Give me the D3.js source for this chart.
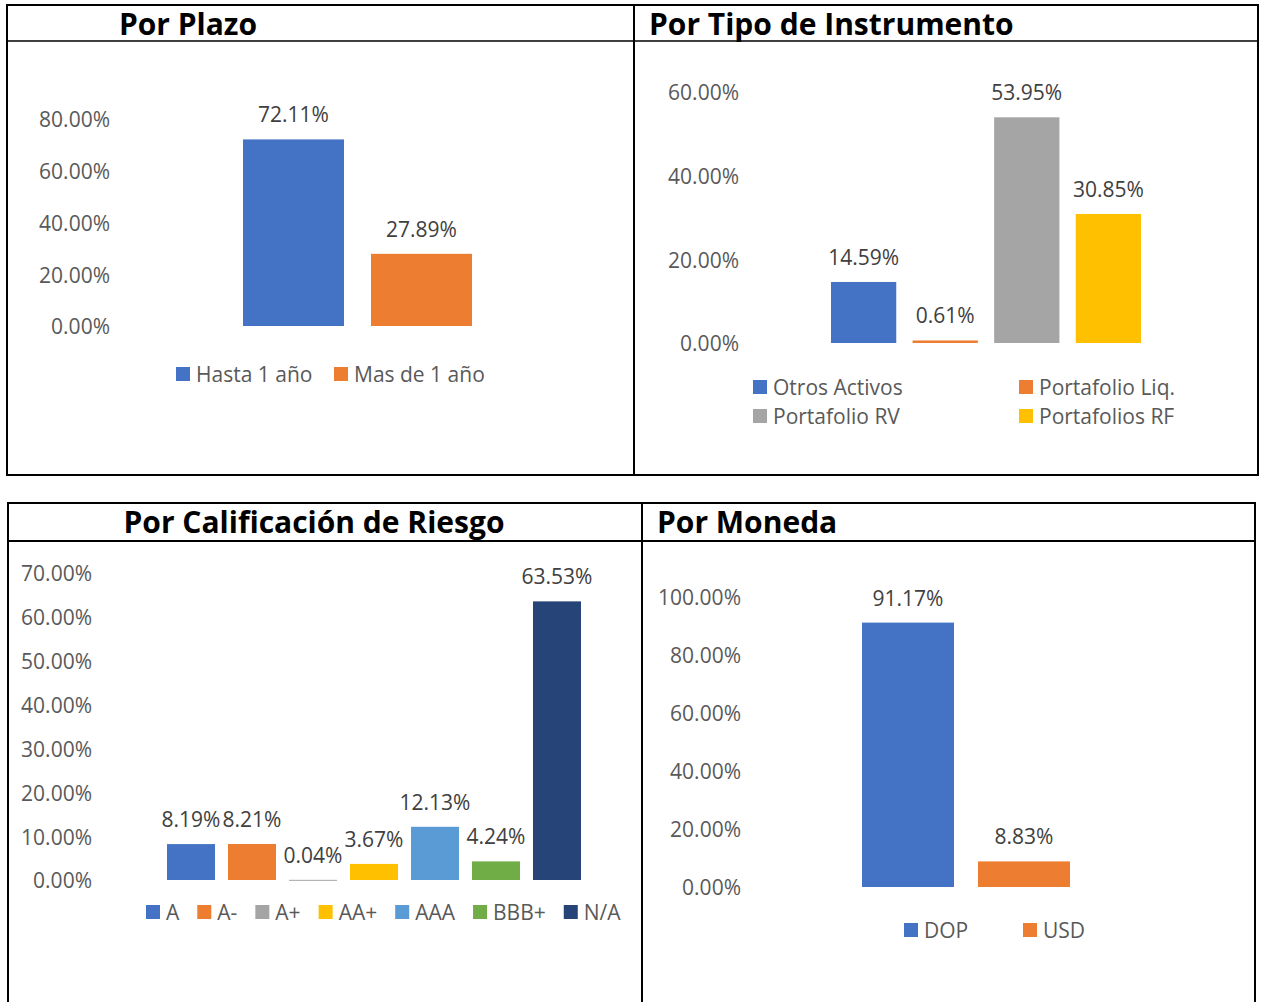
<!DOCTYPE html>
<html>
<head>
<meta charset="utf-8">
<script src="https://cdn.jsdelivr.net/npm/d3@7"></script>
<style>
  body { margin: 0; background: #fff; }
  svg { display: block; }
  .tick text { font-family: "Open Sans", sans-serif; font-size: 21px; fill: #595959; }
  .vlabel { font-family: "Open Sans", sans-serif; font-size: 21px; fill: #404040; }
  .legend text { font-family: "Open Sans", sans-serif; font-size: 21px; fill: #595959; }
  .title { font-family: "Open Sans", sans-serif; font-weight: bold; font-size: 30px; fill: #000; }
</style>
</head>
<body>
<script>
// Data (percent values)
var plazoCats = ["Hasta 1 año", "Mas de 1 año"];
var plazoValues = [72.11, 27.89];
var plazoTicks = [0, 20, 40, 60, 80];

var tipoCats = ["Otros Activos", "Portafolio Liq.", "Portafolio RV", "Portafolios RF"];
var tipoValues = [14.59, 0.61, 53.95, 30.85];
var tipoTicks = [0, 20, 40, 60];

var riesgoCats = ["A", "A-", "A+", "AA+", "AAA", "BBB+", "N/A"];
var riesgoValues = [8.19, 8.21, 0.04, 3.67, 12.13, 4.24, 63.53];
var riesgoTicks = [0, 10, 20, 30, 40, 50, 60, 70];

var monedaCats = ["DOP", "USD"];
var monedaValues = [91.17, 8.83];
var monedaTicks = [0, 20, 40, 60, 80, 100];

// Colors
var palette = ["#4472C4", "#ED7D31", "#A5A5A5", "#FFC000", "#5B9BD5", "#70AD47", "#264478"];

var svg = d3.select("body").append("svg")
    .attr("width", 1261)
    .attr("height", 1002);

var fmt = function (d) { return d3.format(".2f")(d) + "%"; };

// Frames
var frame = svg.append("g").attr("fill", "none").attr("stroke", "#000");
frame.append("rect").attr("x", 7).attr("y", 5).attr("width", 1251).attr("height", 470).attr("stroke-width", 2);
frame.append("line").attr("x1", 634).attr("x2", 634).attr("y1", 5).attr("y2", 475).attr("stroke-width", 2);
frame.append("line").attr("x1", 7).attr("x2", 1258).attr("y1", 41).attr("y2", 41).attr("stroke-width", 1.5);
frame.append("rect").attr("x", 8).attr("y", 503).attr("width", 1247).attr("height", 520).attr("stroke-width", 2);
frame.append("line").attr("x1", 642).attr("x2", 642).attr("y1", 503).attr("y2", 1002).attr("stroke-width", 2);
frame.append("line").attr("x1", 8).attr("x2", 1255).attr("y1", 541).attr("y2", 541).attr("stroke-width", 2);

// Titles
svg.append("text").attr("class", "title").attr("x", 188).attr("y", 35).attr("text-anchor", "middle").text("Por Plazo");
svg.append("text").attr("class", "title").attr("x", 649).attr("y", 35).text("Por Tipo de Instrumento");
svg.append("text").attr("class", "title").attr("x", 314).attr("y", 533).attr("text-anchor", "middle").text("Por Calificación de Riesgo");
svg.append("text").attr("class", "title").attr("x", 657).attr("y", 533).text("Por Moneda");

function drawChart(cats, values, ticks, opt) {
    var x = d3.scaleBand().domain(cats).range(opt.xr).paddingInner(opt.pad).paddingOuter(0);
    var y = d3.scaleLinear().domain([0, d3.max(ticks)]).range(opt.yr);

    var g = svg.append("g");

    var yAxis = d3.axisLeft(y).tickValues(ticks).tickSize(0).tickPadding(0).tickFormat(fmt);
    g.append("g")
        .attr("transform", "translate(" + opt.axisX + ",0)")
        .call(yAxis)
        .call(function (s) { s.select(".domain").remove(); })
        .call(function (s) { s.selectAll(".tick text").attr("dy", "0.38em"); });

    g.selectAll("rect.bar")
        .data(values)
        .enter().append("rect")
        .attr("class", "bar")
        .attr("x", function (d, i) { return x(cats[i]); })
        .attr("width", x.bandwidth())
        .attr("y", function (d) { return y(d); })
        .attr("height", function (d) { return Math.max(1, y(0) - y(d)); })
        .attr("fill", function (d, i) { return palette[i]; });

    g.selectAll("text.vlabel")
        .data(values)
        .enter().append("text")
        .attr("class", "vlabel")
        .attr("text-anchor", "middle")
        .attr("x", function (d, i) { return x(cats[i]) + x.bandwidth() / 2; })
        .attr("y", function (d) { return y(d) - 17; })
        .text(fmt);

    // Legend
    var lg = g.append("g").attr("class", "legend");
    var cx = opt.legX, cy = opt.legY;
    cats.forEach(function (c, i) {
        var it = lg.append("g");
        var px, py;
        if (opt.cols) {
            px = opt.legX + (i % opt.cols) * opt.slot;
            py = opt.legY + Math.floor(i / opt.cols) * opt.rowH;
        } else if (opt.slot) {
            px = opt.legX + i * opt.slot;
            py = opt.legY;
        } else {
            px = cx; py = cy;
        }
        it.append("rect").attr("x", px).attr("y", py - 7).attr("width", 14).attr("height", 14).attr("fill", palette[i]);
        var t = it.append("text").attr("x", px + 20).attr("y", py).attr("dy", "0.38em").text(c);
        cx = px + 20 + t.node().getComputedTextLength() + (opt.gap || 0);
    });
}

drawChart(plazoCats, plazoValues, plazoTicks, {
    xr: [243, 472], pad: 0.211, yr: [326, 119], axisX: 110,
    legX: 176, legY: 374, slot: 158
});

drawChart(tipoCats, tipoValues, tipoTicks, {
    xr: [831, 1141], pad: 0.2, yr: [343, 92], axisX: 739,
    legX: 753, legY: 387, cols: 2, slot: 266, rowH: 29
});

drawChart(riesgoCats, riesgoValues, riesgoTicks, {
    xr: [167, 581], pad: 0.213, yr: [880, 573], axisX: 92,
    legX: 146, legY: 912, gap: 18
});

drawChart(monedaCats, monedaValues, monedaTicks, {
    xr: [862, 1070], pad: 0.207, yr: [887, 597], axisX: 741,
    legX: 904, legY: 930, slot: 119
});
</script>
</body>
</html>
